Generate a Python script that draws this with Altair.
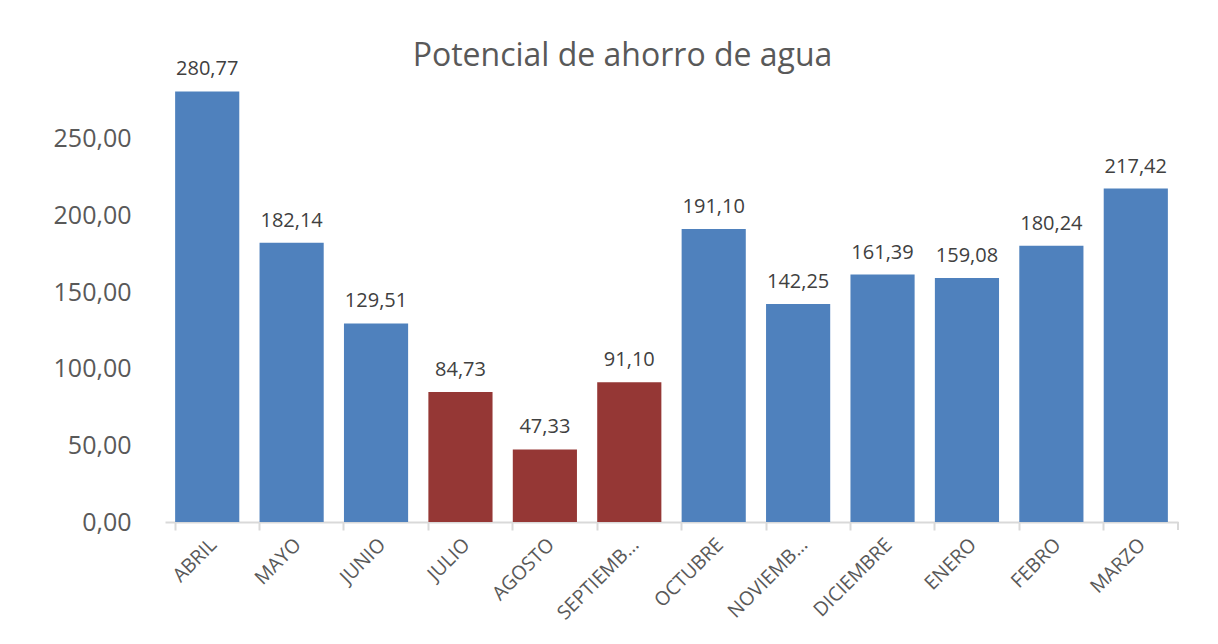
import altair as alt
import pandas as pd

months = ["ABRIL", "MAYO", "JUNIO", "JULIO", "AGOSTO", "SEPTIEMB…",
          "OCTUBRE", "NOVIEMB…", "DICIEMBRE", "ENERO", "FEBRO", "MARZO"]
values = [280.77, 182.14, 129.51, 84.73, 47.33, 91.10,
          191.10, 142.25, 161.39, 159.08, 180.24, 217.42]
groups = ["alto", "alto", "alto", "bajo", "bajo", "bajo",
          "alto", "alto", "alto", "alto", "alto", "alto"]
y_ticks = [0, 50, 100, 150, 200, 250]

df = pd.DataFrame({"mes": months, "valor": values, "grupo": groups})

FONT = "Open Sans"
W, H = 1013, 460

x = alt.X("mes:N", sort=months, title=None,
          scale=alt.Scale(paddingInner=0.24, paddingOuter=0.12),
          axis=alt.Axis(labelAngle=-45, labelFontSize=19.5, labelColor="#595959",
                        labelFont=FONT, domainColor="#D9D9D9", domainWidth=2,
                        tickColor="#D9D9D9", tickWidth=2, tickSize=8,
                        bandPosition=0, labelPadding=5, labelLimit=200))
y = alt.Y("valor:Q", title=None,
          scale=alt.Scale(domain=[0, 300], nice=False),
          axis=alt.Axis(values=y_ticks, grid=False, domain=False, ticks=False,
                        labelFontSize=25, labelColor="#595959", labelFont=FONT,
                        labelPadding=34,
                        labelExpr="replace(format(datum.value, '.2f'), '.', ',')"))

base = alt.Chart(df)

bars = base.mark_bar().encode(
    x=x, y=y,
    color=alt.Color("grupo:N", legend=None,
                    scale=alt.Scale(domain=["alto", "bajo"],
                                    range=["#4F81BD", "#953735"])),
)

labels = base.transform_calculate(
    etiqueta="replace(format(datum.valor, '.2f'), '.', ',')"
).mark_text(baseline="bottom", dy=-12, fontSize=20, font=FONT,
            color="#404040").encode(
    x=alt.X("mes:N", sort=months), y="valor:Q", text="etiqueta:N")

end_tick = alt.Chart(pd.DataFrame({"v": [0]})).mark_rule(
    color="#D9D9D9", strokeWidth=2).encode(
    x=alt.value(W), y=alt.value(H), y2=alt.value(H + 8))

chart = alt.layer(bars, labels, end_tick).properties(
    width=W, height=H,
    title=alt.TitleParams("Potencial de ahorro de agua", fontSize=32,
                          font=FONT, fontWeight="normal", color="#595959",
                          anchor="middle", frame="group", dx=-49, offset=0,
                          baseline="alphabetic", dy=39),
    autosize=alt.AutoSizeParams(type="none"),
    padding={"left": 157, "top": 54, "right": 25, "bottom": 114},
).configure(background="white").configure_view(strokeWidth=0)

chart.save("out.html", embed_options={"renderer": "svg", "actions": False})
